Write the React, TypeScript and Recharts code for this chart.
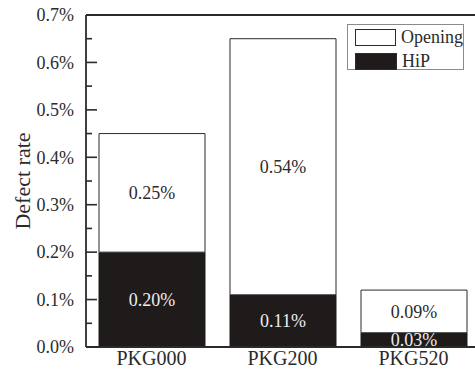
import React from "react";
import {
  BarChart,
  Bar,
  XAxis,
  YAxis,
  LabelList,
  ReferenceLine,
} from "recharts";

const categories = ["PKG000", "PKG200", "PKG520"];
const hipRate = [0.2, 0.11, 0.03];
const openingRate = [0.25, 0.54, 0.09];
const yTicks = [
  0, 0.05, 0.1, 0.15, 0.2, 0.25, 0.3, 0.35, 0.4, 0.45, 0.5, 0.55, 0.6, 0.65,
  0.7,
];
const seriesNames = { opening: "Opening", hip: "HiP" };

const FONT = '"Liberation Serif", "Times New Roman", serif';
const INK = "#2b2b2b";
const BAR_DARK = "#1f1b1b";

const chartData = categories.map((name, i) => ({
  name,
  hip: hipRate[i],
  opening: openingRate[i],
}));

const pct = (v: number) => `${Number(v).toFixed(2)}%`;

// inward ticks: long ones carry a label, short ones sit halfway between
function YTick(props: any) {
  const { x, y, payload } = props;
  const v = payload.value as number;
  const major = Math.round(v * 100) % 10 === 0;
  return (
    <g>
      <line
        x1={x}
        x2={x + (major ? 11 : 6)}
        y1={y}
        y2={y}
        stroke={INK}
        strokeWidth={1.6}
      />
      {major && (
        <text
          x={x - 12}
          y={y}
          dy="0.35em"
          textAnchor="end"
          fontFamily={FONT}
          fontSize={18}
          fill={INK}
        >
          {v.toFixed(1)}%
        </text>
      )}
    </g>
  );
}

function LegendBox() {
  const row = (label: string, fill: string) => (
    <div style={{ display: "flex", alignItems: "center", height: 24 }}>
      <div
        style={{
          width: 40,
          height: 15,
          background: fill,
          border: `1px solid ${INK}`,
          marginRight: 5,
        }}
      />
      <span style={{ fontFamily: FONT, fontSize: 18, color: INK, lineHeight: 1 }}>
        {label}
      </span>
    </div>
  );
  return (
    <div
      style={{
        position: "absolute",
        left: 347,
        top: 24,
        width: 117,
        height: 46,
        border: "1px solid #8a8a8a",
        padding: "0 0 0 7px",
        boxSizing: "border-box",
        background: "#fff",
      }}
    >
      {row(seriesNames.opening, "#fff")}
      {row(seriesNames.hip, BAR_DARK)}
    </div>
  );
}

export default function App() {
  return (
    <div
      style={{
        position: "absolute",
        left: 0,
        top: 0,
        width: 475,
        height: 372,
        overflow: "hidden",
        background: "#fff",
      }}
    >
      <BarChart
        width={480}
        height={372}
        data={chartData}
        margin={{ top: 15, right: 1, left: 16, bottom: 0 }}
        barSize={106}
      >
        <XAxis
          dataKey="name"
          height={25}
          tickLine={false}
          tickSize={0}
          tickMargin={4}
          axisLine={{ stroke: INK, strokeWidth: 1.8 }}
          tick={{ fontFamily: FONT, fontSize: 20, fill: INK }}
        />
        <YAxis
          width={70}
          domain={[0, 0.7]}
          ticks={yTicks}
          interval={0}
          tickLine={false}
          tickSize={0}
          tickMargin={0}
          axisLine={{ stroke: INK, strokeWidth: 1.8 }}
          tick={<YTick />}
          label={{
            content: (p: any) => {
              const vb = p.viewBox || {};
              const cx = (vb.x ?? 16) + 6;
              const cy = (vb.y ?? 15) + (vb.height ?? 332) / 2;
              return (
                <text
                  x={cx}
                  y={cy}
                  transform={`rotate(-90, ${cx}, ${cy})`}
                  textAnchor="middle"
                  dominantBaseline="central"
                  fontFamily={FONT}
                  fontSize={22}
                  fill={INK}
                >
                  Defect rate
                </text>
              );
            },
          }}
        />
        <ReferenceLine y={0.7} stroke={INK} strokeWidth={1.8} />
        <Bar
          dataKey="hip"
          name={seriesNames.hip}
          stackId="rate"
          fill={BAR_DARK}
          stroke={BAR_DARK}
          isAnimationActive={false}
        >
          <LabelList
            dataKey="hip"
            position="center"
            formatter={pct}
            fill="#eeeeee"
            fontFamily={FONT}
            fontSize={18}
          />
        </Bar>
        <Bar
          dataKey="opening"
          name={seriesNames.opening}
          stackId="rate"
          fill="#ffffff"
          stroke={INK}
          strokeWidth={1}
          isAnimationActive={false}
        >
          <LabelList
            dataKey="opening"
            position="center"
            formatter={pct}
            fill={INK}
            fontFamily={FONT}
            fontSize={18}
          />
        </Bar>
      </BarChart>
      <LegendBox />
    </div>
  );
}
